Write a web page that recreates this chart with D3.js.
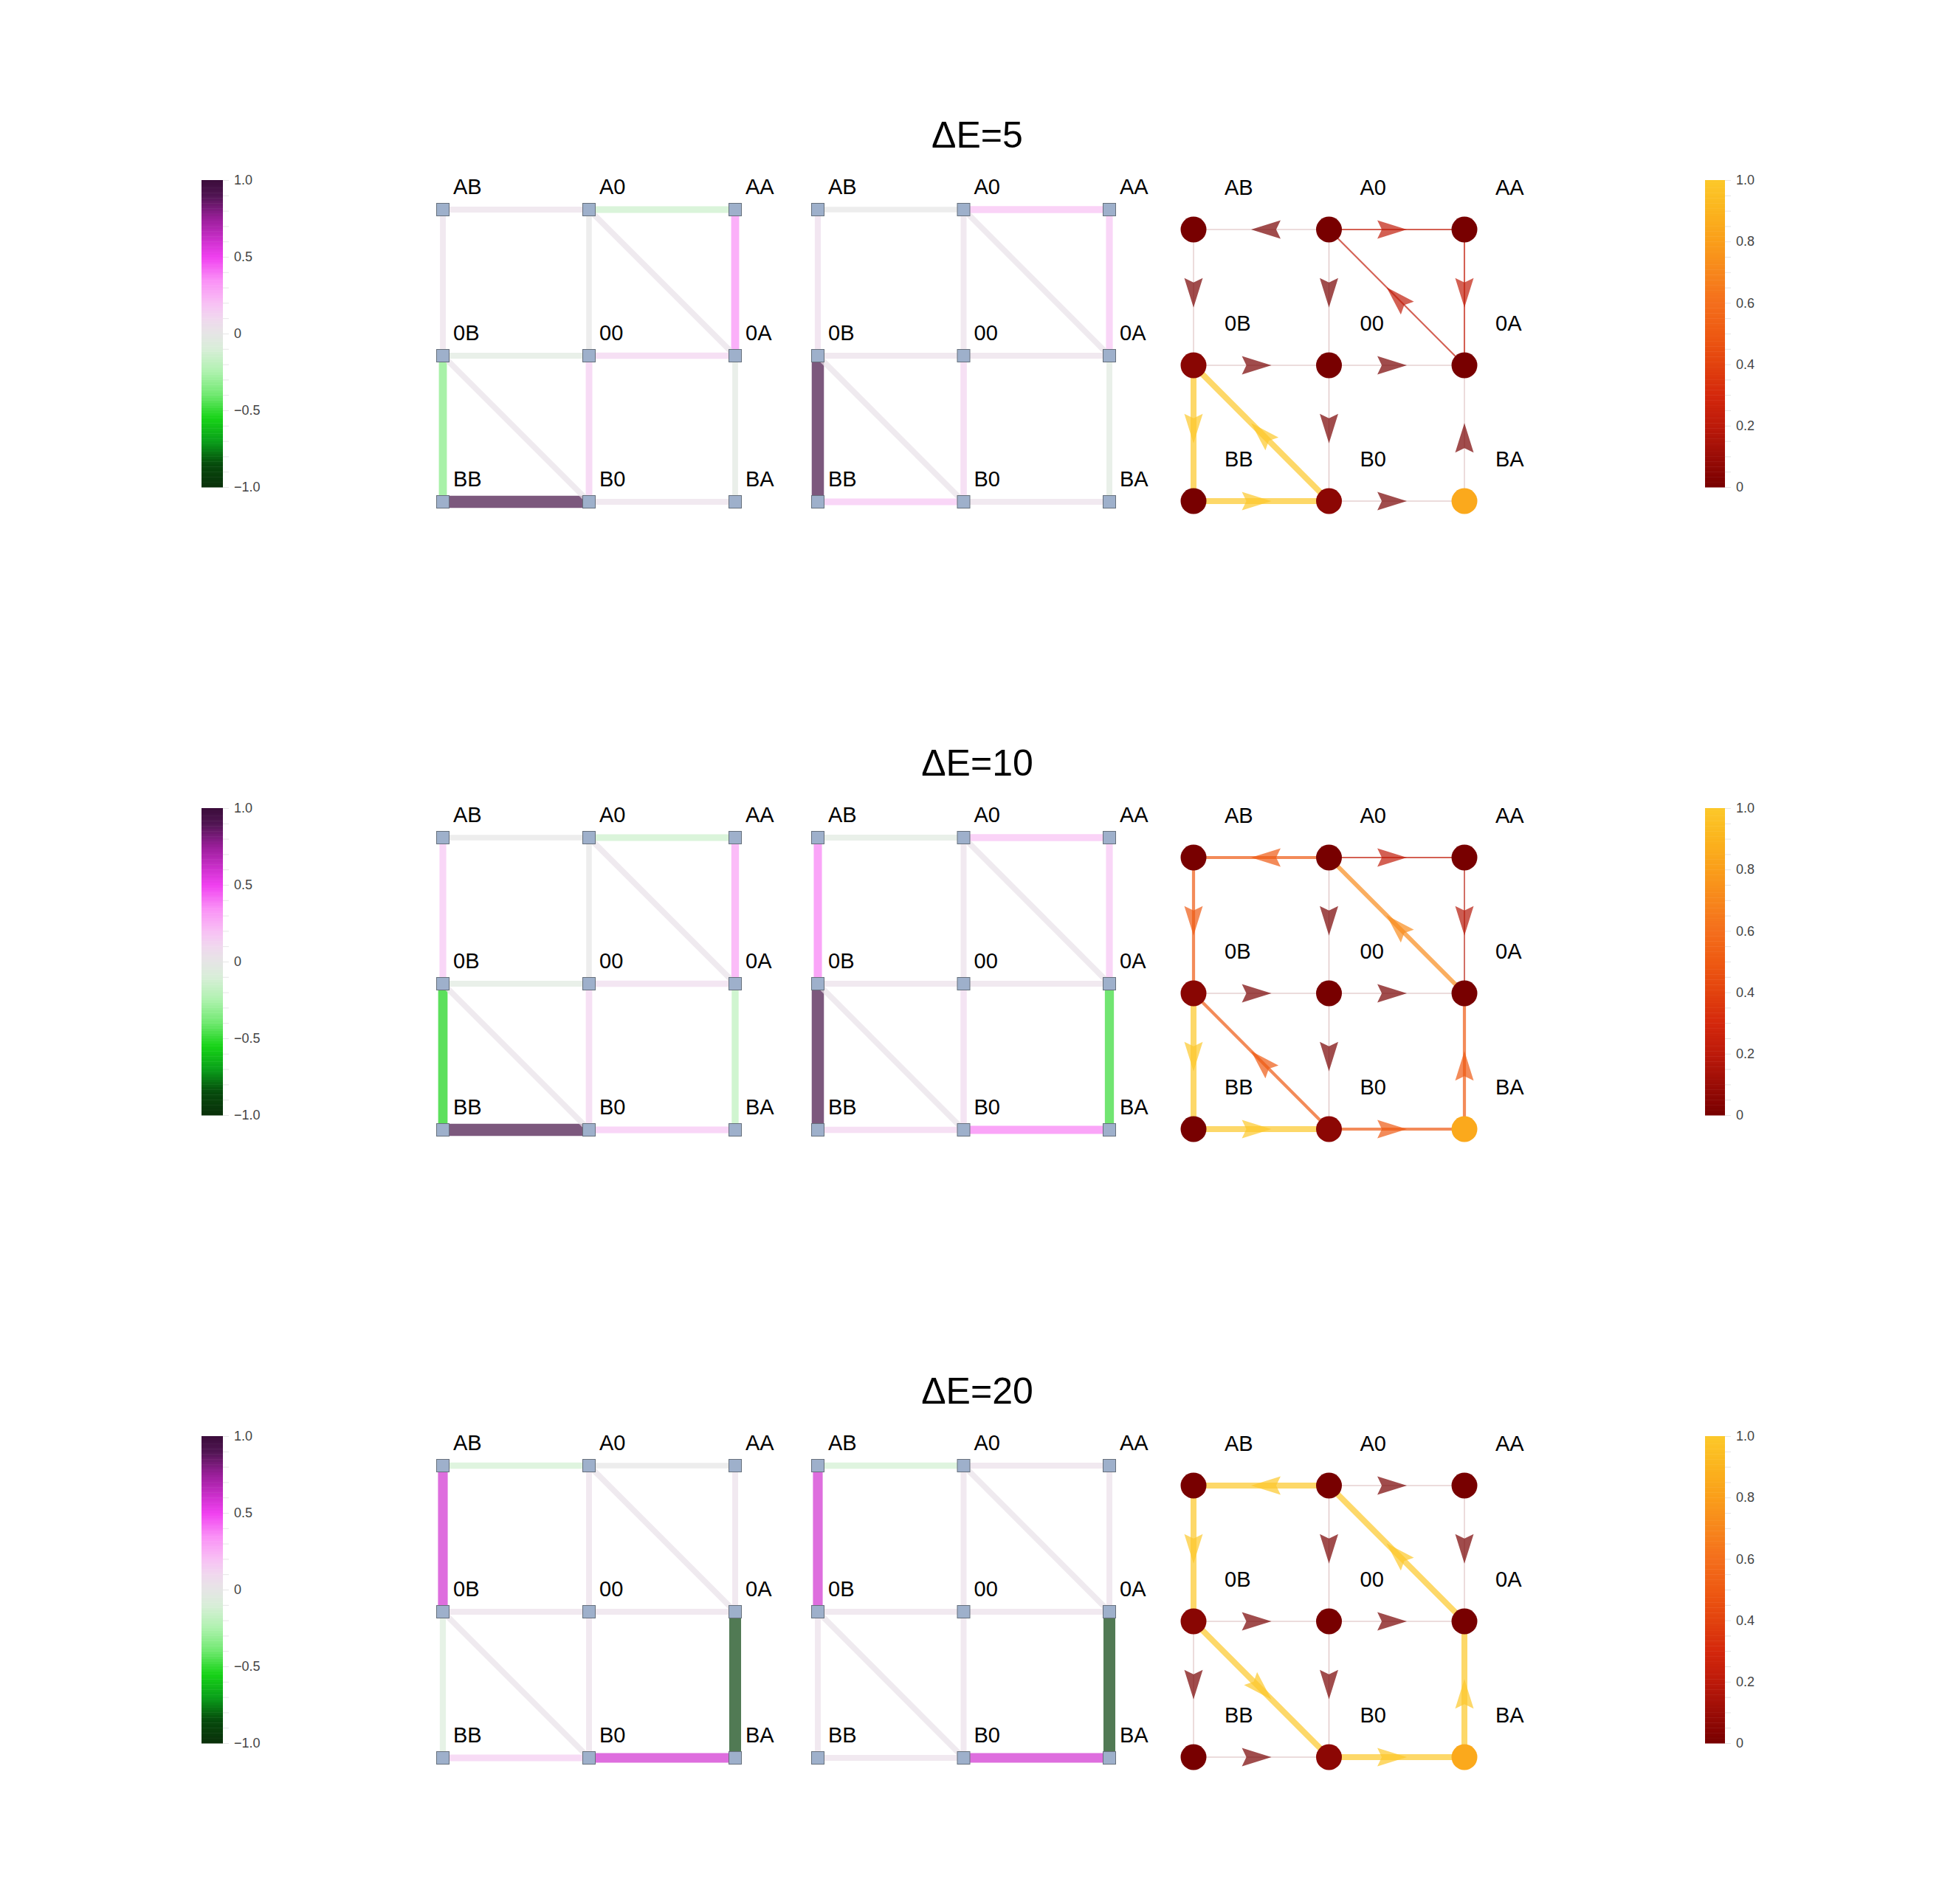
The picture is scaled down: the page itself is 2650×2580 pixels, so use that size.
<!DOCTYPE html>
<html>
<head>
<meta charset="utf-8">
<script src="https://cdn.jsdelivr.net/npm/d3@7"></script>
<style>
  body { margin: 0; background: #fff; }
  svg text { font-family: "Liberation Sans", Arial, Helvetica, sans-serif; }
</style>
</head>
<body>
<div id="chart"></div>
<script>
'use strict';

// ── Data ───────────────────────────────────────────────────────────────────
const nodeNames = ['AB', 'A0', 'AA', '0B', '00', '0A', 'BB', 'B0', 'BA'];

const edgePairs = [
  ['AB', 'A0'], ['A0', 'AA'], ['0B', '00'], ['00', '0A'], ['BB', 'B0'], ['B0', 'BA'],
  ['AB', '0B'], ['A0', '00'], ['AA', '0A'], ['0B', 'BB'], ['00', 'B0'], ['0A', 'BA'],
  ['A0', '0A'], ['0B', 'B0'],
];

const titles = ['ΔE=5', 'ΔE=10', 'ΔE=20'];

// edge values, first panel (same order as edgePairs)
const edgeA5  = [0.05, -0.15, -0.05, 0.12, 0.95, 0.05, 0.05, 0.0, 0.35, -0.35, 0.15, -0.03, 0.03, 0.03];
const edgeA10 = [0.0, -0.15, -0.05, 0.08, 0.95, 0.18, 0.18, 0.0, 0.3, -0.55, 0.12, -0.2, 0.03, 0.03];
const edgeA20 = [-0.12, 0.0, 0.05, 0.05, 0.15, 0.6, 0.6, 0.05, 0.05, -0.08, 0.05, -0.9, 0.03, 0.03];

// edge values, second panel
const edgeB5  = [0.0, 0.2, 0.05, 0.05, 0.18, 0.05, 0.07, 0.05, 0.18, 0.95, 0.12, -0.05, 0.03, 0.03];
const edgeB10 = [-0.05, 0.2, 0.05, 0.05, 0.12, 0.38, 0.38, 0.05, 0.18, 0.95, 0.1, -0.5, 0.03, 0.03];
const edgeB20 = [-0.12, 0.05, 0.05, 0.05, 0.05, 0.6, 0.6, 0.05, 0.05, 0.05, 0.05, -0.9, 0.03, 0.03];

// directed flows [from, to, value]
const flow5 = [
  ['A0', 'AB', 0.0], ['A0', 'AA', 0.22], ['0B', '00', 0.0], ['00', '0A', 0.0],
  ['BB', 'B0', 1.0], ['B0', 'BA', 0.0], ['AB', '0B', 0.0], ['A0', '00', 0.0],
  ['AA', '0A', 0.22], ['0B', 'BB', 1.0], ['00', 'B0', 0.0], ['BA', '0A', 0.0],
  ['0A', 'A0', 0.22], ['B0', '0B', 1.0],
];
const flow10 = [
  ['A0', 'AB', 0.5], ['A0', 'AA', 0.22], ['0B', '00', 0.0], ['00', '0A', 0.0],
  ['BB', 'B0', 1.0], ['B0', 'BA', 0.5], ['AB', '0B', 0.5], ['A0', '00', 0.0],
  ['AA', '0A', 0.18], ['0B', 'BB', 1.0], ['00', 'B0', 0.0], ['BA', '0A', 0.5],
  ['0A', 'A0', 0.72], ['B0', '0B', 0.5],
];
const flow20 = [
  ['A0', 'AB', 1.0], ['A0', 'AA', 0.0], ['0B', '00', 0.0], ['00', '0A', 0.0],
  ['BB', 'B0', 0.0], ['B0', 'BA', 1.0], ['AB', '0B', 1.0], ['A0', '00', 0.0],
  ['AA', '0A', 0.0], ['0B', 'BB', 0.0], ['00', 'B0', 0.0], ['BA', '0A', 1.0],
  ['0A', 'A0', 1.0], ['0B', 'B0', 1.0],
];

// node values for the flow panel (same order as nodeNames)
const nodeVal5  = [0, 0, 0, 0.05, 0, 0, 0, 0.06, 0.85];
const nodeVal10 = [0, 0, 0, 0.05, 0, 0, 0, 0.06, 0.85];
const nodeVal20 = [0, 0, 0, 0.05, 0, 0, 0, 0.06, 0.85];

const leftTicks  = [-1, -0.5, 0, 0.5, 1];
const rightTicks = [0, 0.2, 0.4, 0.6, 0.8, 1];

const rows = [
  { title: titles[0], a: edgeA5,  b: edgeB5,  flow: flow5,  nodes: nodeVal5 },
  { title: titles[1], a: edgeA10, b: edgeB10, flow: flow10, nodes: nodeVal10 },
  { title: titles[2], a: edgeA20, b: edgeB20, flow: flow20, nodes: nodeVal20 },
];

// ── Colour scales ──────────────────────────────────────────────────────────
const divColor = d3.scaleLinear()
  .domain([-1, -0.85, -0.7, -0.55, -0.4, -0.25, -0.1, 0, 0.1, 0.2, 0.35, 0.5, 0.6, 0.75, 0.9, 1])
  .range(['#0a300a', '#064a0c', '#0aa01a', '#17d317', '#6ee86e', '#aef2ae', '#d8eed8', '#e5e5e5',
          '#f0d8ee', '#f8c0f4', '#fa8ff6', '#f040f0', '#d031d0', '#9a1e9a', '#501552', '#3a0c3a'])
  .clamp(true);

const heatColor = d3.scaleLinear()
  .domain([0, 0.1, 0.2, 0.3, 0.4, 0.5, 0.6, 0.7, 0.8, 0.9, 1])
  .range(['#780000', '#9a0c06', '#bc1a0a', '#d4280c', '#e2420e', '#ee5a12',
          '#f46e1c', '#f7861c', '#fa9e1a', '#fbb41e', '#fcc82a'])
  .clamp(true);

// ── Layout ─────────────────────────────────────────────────────────────────
const W = 2650, H = 2580;
const ROW_DY = 851;
const rowOf = { A: 0, '0': 1, B: 2 };
const colOf = { B: 0, '0': 1, A: 2 };

const svg = d3.select('#chart').append('svg')
  .attr('width', W).attr('height', H)
  .attr('viewBox', `0 0 ${W} ${H}`);

svg.append('rect').attr('width', W).attr('height', H).attr('fill', '#fff');

rows.forEach((row, r) => {
  const oy = r * ROW_DY;
  const g = svg.append('g');

  // title
  g.append('text')
    .attr('x', 1324).attr('y', 200 + oy)
    .attr('text-anchor', 'middle')
    .attr('font-size', 50)
    .attr('fill', '#000')
    .text(row.title);

  // panels with edge values
  drawEdgePanel(g, row.a, d3.scaleLinear().domain([0, 2]).range([600, 996]),
    d3.scaleLinear().domain([0, 2]).range([284 + oy, 680 + oy]));
  drawEdgePanel(g, row.b, d3.scaleLinear().domain([0, 2]).range([1108, 1503]),
    d3.scaleLinear().domain([0, 2]).range([284 + oy, 680 + oy]));

  // flow panel
  drawFlowPanel(g, row.flow, row.nodes,
    d3.scaleLinear().domain([0, 2]).range([1617, 1984]),
    d3.scaleLinear().domain([0, 2]).range([311 + oy, 679 + oy]));

  // colour bars
  drawColorbar(g, divColor, d3.scaleLinear().domain([-1, 1]).range([660 + oy, 244 + oy]),
    273, 29, leftTicks, 0.1, d => d === 0 ? '0' : d3.format('.1f')(d));
  drawColorbar(g, heatColor, d3.scaleLinear().domain([0, 1]).range([660 + oy, 244 + oy]),
    2310, 27, rightTicks, 0.05, d => d === 0 ? '0' : d3.format('.1f')(d));
});

function pos(name, x, y) {
  return [x(colOf[name[1]]), y(rowOf[name[0]])];
}

function drawEdgePanel(g, values, x, y) {
  const p = g.append('g');
  const data = edgePairs.map((e, i) => ({ s: e[0], t: e[1], v: values[i] }));

  p.selectAll('line.edge').data(data).enter().append('line')
    .attr('class', 'edge')
    .attr('x1', d => pos(d.s, x, y)[0]).attr('y1', d => pos(d.s, x, y)[1])
    .attr('x2', d => pos(d.t, x, y)[0]).attr('y2', d => pos(d.t, x, y)[1])
    .attr('stroke', d => divColor(d.v))
    .attr('stroke-opacity', 0.7)
    .attr('stroke-width', d => 7.5 + 9.5 * Math.abs(d.v));

  const S = 17;
  p.selectAll('rect.node').data(nodeNames).enter().append('rect')
    .attr('class', 'node')
    .attr('x', d => pos(d, x, y)[0] - S / 2)
    .attr('y', d => pos(d, x, y)[1] - S / 2)
    .attr('width', S).attr('height', S)
    .attr('fill', '#9eb0cb')
    .attr('stroke', '#66707c')
    .attr('stroke-width', 1);

  p.selectAll('text.lbl').data(nodeNames).enter().append('text')
    .attr('class', 'lbl')
    .attr('x', d => pos(d, x, y)[0] + 14)
    .attr('y', d => pos(d, x, y)[1] - 21)
    .attr('font-size', 29)
    .attr('fill', '#000')
    .text(d => d);
}

function drawFlowPanel(g, flows, nodeVals, x, y) {
  const p = g.append('g');
  const data = flows.map(f => ({ s: f[0], t: f[1], v: f[2] }));

  p.selectAll('line.flow').data(data).enter().append('line')
    .attr('class', 'flow')
    .attr('x1', d => pos(d.s, x, y)[0]).attr('y1', d => pos(d.s, x, y)[1])
    .attr('x2', d => pos(d.t, x, y)[0]).attr('y2', d => pos(d.t, x, y)[1])
    .attr('stroke', d => heatColor(d.v))
    .attr('stroke-opacity', 0.7)
    .attr('stroke-width', d => 0.4 + 7.6 * d.v);

  // arrow heads, tip at 57.5% along the edge
  const L = 40, HW = 12.5, NOTCH = 6;
  p.selectAll('path.arrow').data(data).enter().append('path')
    .attr('class', 'arrow')
    .attr('d', `M0,0L${-L},${-HW}L${-L + NOTCH},0L${-L},${HW}Z`)
    .attr('transform', d => {
      const [x0, y0] = pos(d.s, x, y), [x1, y1] = pos(d.t, x, y);
      const tx = x0 + 0.575 * (x1 - x0), ty = y0 + 0.575 * (y1 - y0);
      const ang = Math.atan2(y1 - y0, x1 - x0) * 180 / Math.PI;
      return `translate(${tx},${ty}) rotate(${ang})`;
    })
    .attr('fill', d => heatColor(d.v))
    .attr('fill-opacity', 0.7);

  p.selectAll('circle.node').data(nodeNames).enter().append('circle')
    .attr('class', 'node')
    .attr('cx', d => pos(d, x, y)[0])
    .attr('cy', d => pos(d, x, y)[1])
    .attr('r', 17.5)
    .attr('fill', (d, i) => heatColor(nodeVals[i]));

  p.selectAll('text.lbl').data(nodeNames).enter().append('text')
    .attr('class', 'lbl')
    .attr('x', d => pos(d, x, y)[0] + 42)
    .attr('y', d => pos(d, x, y)[1] - 47)
    .attr('font-size', 29)
    .attr('fill', '#000')
    .text(d => d);
}

function drawColorbar(g, color, scale, x0, w, ticks, minorStep, fmt) {
  const cb = g.append('g');
  const [lo, hi] = scale.domain();
  const n = 120;
  const step = (hi - lo) / n;
  const steps = d3.range(n).map(i => lo + i * step);

  cb.selectAll('rect.band').data(steps).enter().append('rect')
    .attr('class', 'band')
    .attr('x', x0).attr('width', w)
    .attr('y', d => scale(d + step))
    .attr('height', d => scale(d) - scale(d + step) + 0.5)
    .attr('fill', d => color(d + step / 2));

  // faint minor ticks
  const minor = d3.range(lo, hi + minorStep / 2, minorStep);
  const minorAxis = d3.axisRight(scale).tickValues(minor).tickSize(8).tickFormat('');
  const ma = cb.append('g').attr('transform', `translate(${x0 + w},0)`).call(minorAxis);
  ma.select('.domain').remove();
  ma.selectAll('.tick line').attr('stroke', '#e6e6e6');

  const axis = d3.axisRight(scale).tickValues(ticks).tickSize(0).tickPadding(15).tickFormat(fmt);
  const a = cb.append('g').attr('transform', `translate(${x0 + w},0)`).call(axis);
  a.select('.domain').remove();
  a.selectAll('text')
    .attr('font-size', 18)
    .attr('fill', '#444')
    .style('font-family', '"Liberation Sans", Arial, sans-serif');
}
</script>
</body>
</html>
